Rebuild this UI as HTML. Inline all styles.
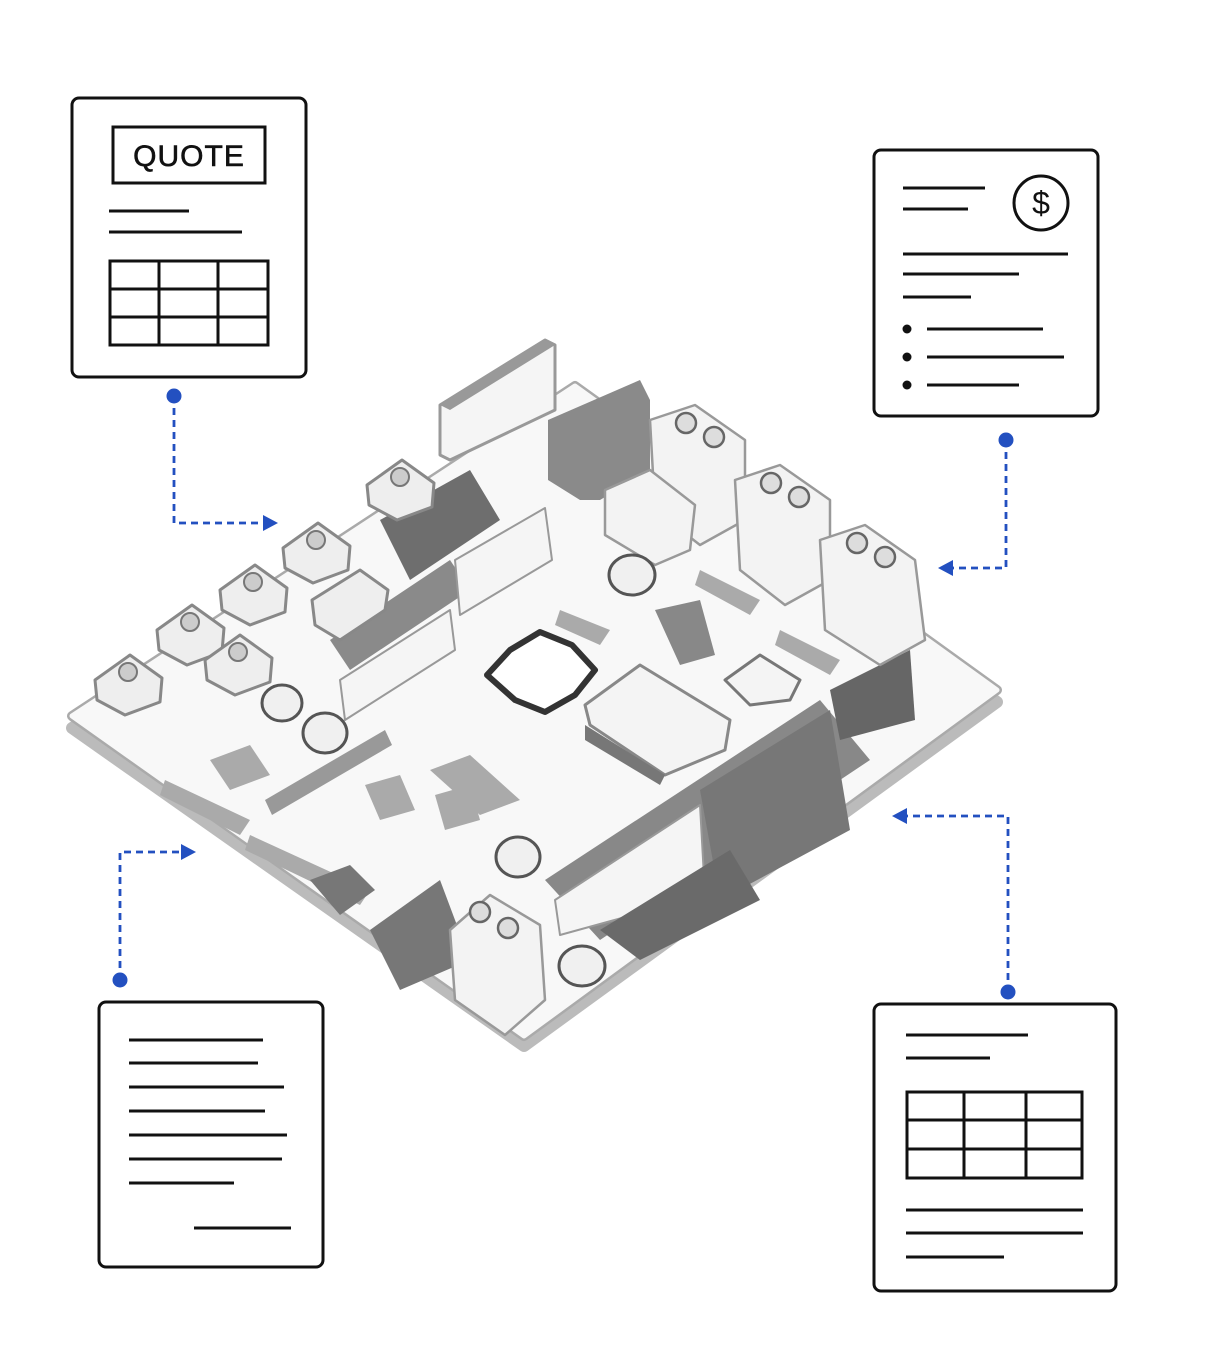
<!DOCTYPE html>
<html><head><meta charset="utf-8"><style>
html,body{margin:0;padding:0;background:#fff}
svg{display:block}
</style></head><body>
<svg width="1208" height="1356" viewBox="0 0 1208 1356" xmlns="http://www.w3.org/2000/svg" font-family="Liberation Sans, sans-serif">
<g fill="none" stroke="#111" stroke-width="3">
<rect x="72" y="98" width="234" height="279" rx="7"/>
<rect x="113" y="127" width="152" height="56"/>
<line x1="109" y1="211" x2="189" y2="211"/><line x1="109" y1="232" x2="242" y2="232"/>
<rect x="110" y="261" width="158" height="84"/>
<line x1="159" y1="261" x2="159" y2="345"/><line x1="218" y1="261" x2="218" y2="345"/>
<line x1="110" y1="289" x2="268" y2="289"/><line x1="110" y1="317" x2="268" y2="317"/>
<rect x="874" y="150" width="224" height="266" rx="7"/>
<line x1="903" y1="188" x2="985" y2="188"/><line x1="903" y1="209" x2="968" y2="209"/>
<circle cx="1041" cy="203" r="27"/>
<line x1="903" y1="254" x2="1068" y2="254"/><line x1="903" y1="274" x2="1019" y2="274"/><line x1="903" y1="297" x2="971" y2="297"/>
<line x1="927" y1="329" x2="1043" y2="329"/><line x1="927" y1="357" x2="1064" y2="357"/><line x1="927" y1="385" x2="1019" y2="385"/>
<rect x="99" y="1002" width="224" height="265" rx="7"/>
<line x1="129" y1="1040" x2="263" y2="1040"/><line x1="129" y1="1063" x2="258" y2="1063"/><line x1="129" y1="1087" x2="284" y2="1087"/>
<line x1="129" y1="1111" x2="265" y2="1111"/><line x1="129" y1="1135" x2="287" y2="1135"/><line x1="129" y1="1159" x2="282" y2="1159"/>
<line x1="129" y1="1183" x2="234" y2="1183"/><line x1="194" y1="1228" x2="291" y2="1228"/>
<rect x="874" y="1004" width="242" height="287" rx="7"/>
<line x1="906" y1="1035" x2="1028" y2="1035"/><line x1="906" y1="1058" x2="990" y2="1058"/>
<rect x="907" y="1092" width="175" height="86"/>
<line x1="964" y1="1092" x2="964" y2="1178"/><line x1="1026" y1="1092" x2="1026" y2="1178"/>
<line x1="907" y1="1120" x2="1082" y2="1120"/><line x1="907" y1="1149" x2="1082" y2="1149"/>
<line x1="906" y1="1210" x2="1083" y2="1210"/><line x1="906" y1="1233" x2="1083" y2="1233"/><line x1="906" y1="1257" x2="1004" y2="1257"/>
</g>
<text x="189" y="166" font-size="30" text-anchor="middle" fill="#111" stroke="#111" stroke-width="0.6" letter-spacing="1">QUOTE</text>
<text x="1041" y="214" font-size="32" text-anchor="middle" fill="#111">$</text>
<g fill="#111"><circle cx="907" cy="329" r="4.5"/><circle cx="907" cy="357" r="4.5"/><circle cx="907" cy="385" r="4.5"/></g>

<g stroke="#2350c0" stroke-width="2.8" stroke-dasharray="7,5" fill="none">
<polyline points="174,396 174,523 265,523"/>
<polyline points="1006,440 1006,568 950,568"/>
<polyline points="120,980 120,852 185,852"/>
<polyline points="1008,992 1008,816 905,816"/>
</g>
<g fill="#2350c0">
<circle cx="174" cy="396" r="7.5"/><circle cx="1006" cy="440" r="7.5"/><circle cx="120" cy="980" r="7.5"/><circle cx="1008" cy="992" r="7.5"/>
<polygon points="278,523 263,515 263,531"/>
<polygon points="938,568 953,560 953,576"/>
<polygon points="196,852 181,844 181,860"/>
<polygon points="892,816 907,808 907,824"/>
</g>

<g stroke-linejoin="round">
<polygon points="72,728 575,398 997,702 524,1046" fill="#d8d8d8" stroke="#bbb" stroke-width="12"/>
<polygon points="72,716 575,386 997,690 524,1036" fill="#f8f8f8" stroke="#aaa" stroke-width="10"/>
<polygon points="72,716 575,386 997,690 524,1036" fill="#f8f8f8" stroke="#f8f8f8" stroke-width="5"/>
<polygon points="545,880 820,700 870,760 600,940" fill="#888"/>
<polygon points="555,900 700,805 705,895 560,935" fill="#f5f5f5" stroke="#999" stroke-width="2"/>
<polygon points="700,790 830,710 850,830 720,900" fill="#777"/>
<polygon points="600,930 730,850 760,900 640,960" fill="#6a6a6a"/>
<polygon points="330,640 450,560 470,590 350,670" fill="#8a8a8a"/>
<polygon points="340,680 450,610 455,650 345,720" fill="#f5f5f5" stroke="#999" stroke-width="2"/>
<polygon points="380,520 470,470 500,520 410,580" fill="#6e6e6e"/>
<polygon points="455,560 545,508 552,560 460,615" fill="#f5f5f5" stroke="#999" stroke-width="2"/>
<polygon points="370,930 440,880 470,960 400,990" fill="#777"/>
<polygon points="265,800 385,730 392,745 272,815" fill="#999"/>
<polygon points="830,690 910,650 915,720 840,740" fill="#666"/>
<polygon points="440,405 545,340 555,345 555,410 450,460 440,455" fill="#f5f5f5" stroke="#999" stroke-width="3"/>
<polygon points="440,405 545,340 555,345 450,410" fill="#999"/>
<polygon points="548,420 640,380 650,400 650,470 600,500 580,500 548,480" fill="#8a8a8a"/>
<g fill="#f3f3f3" stroke="#999" stroke-width="2.5">
<polygon points="650,420 695,405 745,440 745,520 700,545 655,510"/>
<polygon points="735,480 780,465 830,500 830,580 785,605 740,570"/>
<polygon points="820,540 865,525 915,560 925,640 880,665 825,630"/>
<polygon points="450,930 490,895 540,925 545,1000 505,1035 455,1000"/>
<polygon points="605,490 650,470 695,505 690,550 655,565 605,535"/>
</g>
<g fill="#ddd" stroke="#666" stroke-width="2.5">
<circle cx="686" cy="423" r="10"/><circle cx="714" cy="437" r="10"/>
<circle cx="771" cy="483" r="10"/><circle cx="799" cy="497" r="10"/>
<circle cx="857" cy="543" r="10"/><circle cx="885" cy="557" r="10"/>
<circle cx="480" cy="912" r="10"/><circle cx="508" cy="928" r="10"/>
</g>
<g fill="#f0f0f0" stroke="#555" stroke-width="3">
<ellipse cx="632" cy="575" rx="23" ry="20"/><ellipse cx="518" cy="857" rx="22" ry="20"/>
<ellipse cx="582" cy="966" rx="23" ry="20"/><ellipse cx="325" cy="733" rx="22" ry="20"/>
<ellipse cx="282" cy="703" rx="20" ry="18"/>
</g>
<polygon points="540,632 572,645 595,670 575,695 545,712 515,700 487,675 510,650" fill="#fff" stroke="#333" stroke-width="6"/>
<polygon points="585,705 640,665 730,720 725,750 665,775 590,725" fill="#f4f4f4" stroke="#888" stroke-width="3"/>
<polygon points="585,725 665,775 660,785 585,740" fill="#777"/>
<polygon points="725,680 760,655 800,680 790,700 750,705" fill="#f4f4f4" stroke="#777" stroke-width="3"/>
<polygon points="655,610 700,600 715,655 680,665" fill="#888"/>
<g fill="#eee" stroke="#888" stroke-width="3">
<polygon points="95,680 130,655 162,678 160,702 125,715 97,700"/>
<polygon points="157,630 192,605 224,628 222,652 187,665 159,650"/>
<polygon points="205,660 240,635 272,658 270,682 235,695 207,680"/>
<polygon points="220,590 255,565 287,588 285,612 250,625 222,610"/>
<polygon points="283,548 318,523 350,546 348,570 313,583 285,568"/>
<polygon points="367,485 402,460 434,483 432,507 397,520 369,505"/>
<polygon points="312,600 360,570 388,590 385,610 340,640 315,625"/>
</g>
<g fill="#ccc" stroke="#777" stroke-width="2">
<circle cx="128" cy="672" r="9"/><circle cx="190" cy="622" r="9"/><circle cx="238" cy="652" r="9"/>
<circle cx="253" cy="582" r="9"/><circle cx="316" cy="540" r="9"/><circle cx="400" cy="477" r="9"/>
</g>
<g fill="#aaa">
<polygon points="165,780 250,820 240,835 160,795"/>
<polygon points="210,760 250,745 270,775 230,790"/>
<polygon points="430,770 470,755 520,800 480,815"/>
<polygon points="365,785 400,775 415,810 380,820"/>
<polygon points="435,795 470,785 480,820 445,830"/>
<polygon points="250,835 370,890 360,905 245,850"/>
<polygon points="560,610 610,630 600,645 555,625"/>
<polygon points="700,570 760,600 750,615 695,585"/>
<polygon points="780,630 840,660 830,675 775,645"/>
</g>
<polygon points="310,880 350,865 375,890 340,915" fill="#777"/>
</g>
</svg>
</body></html>
